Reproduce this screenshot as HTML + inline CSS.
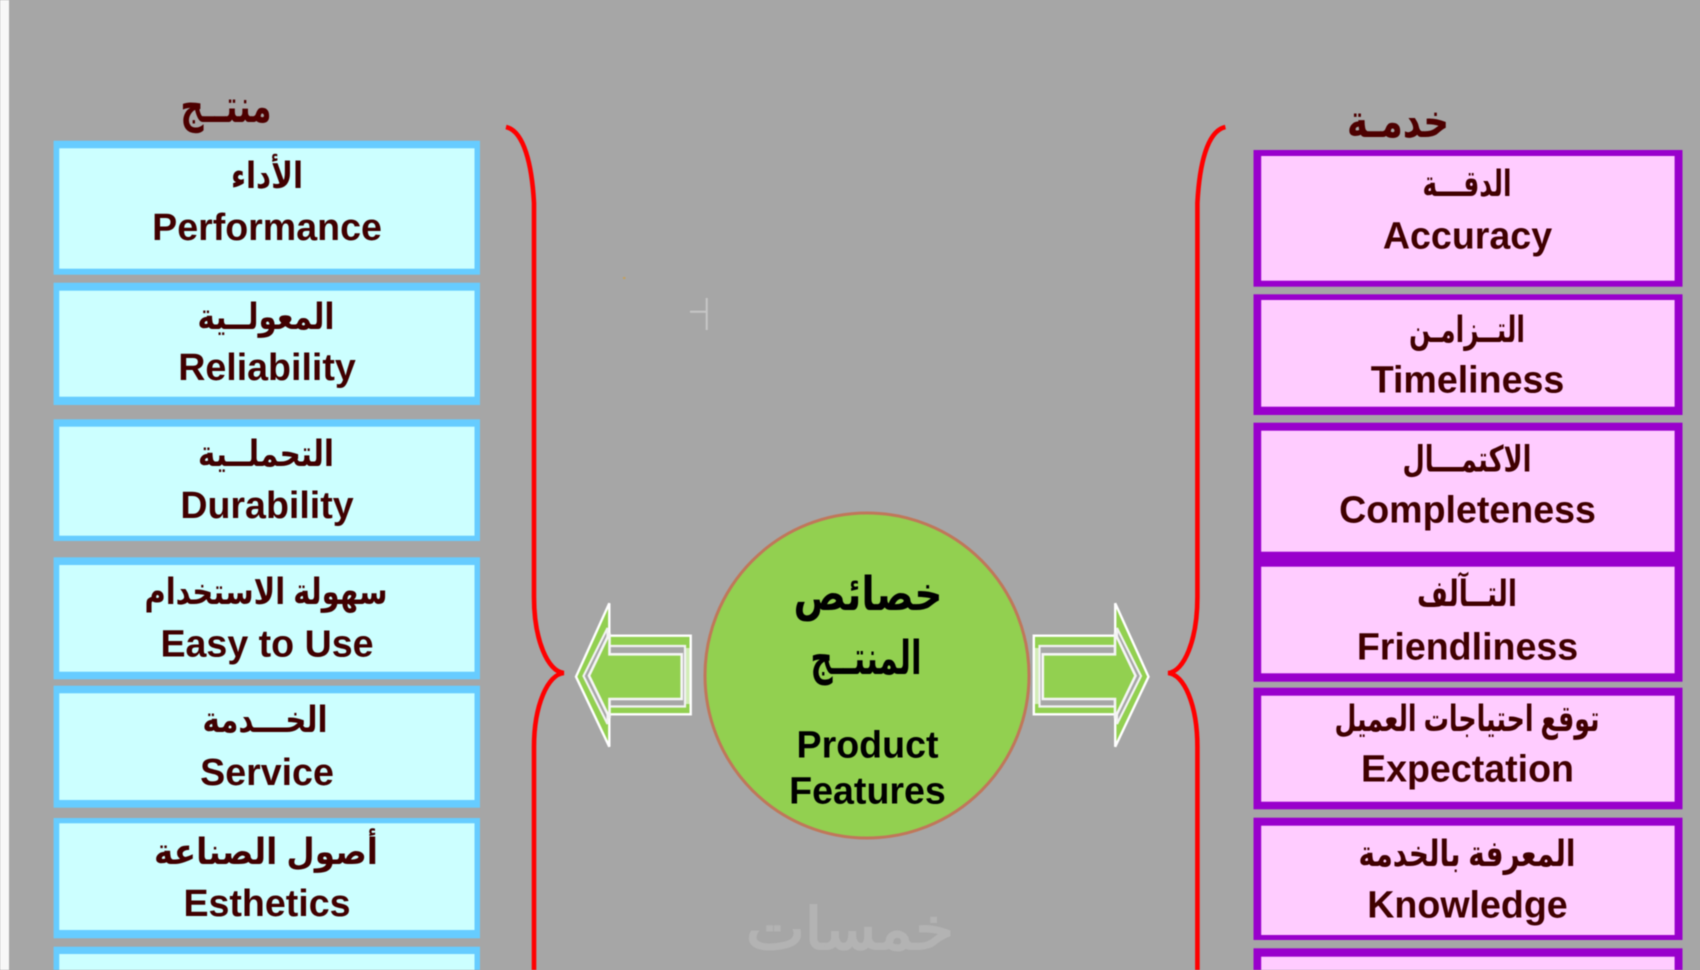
<!DOCTYPE html>
<html lang="ar">
<head>
<meta charset="utf-8">
<title>خصائص المنتج</title>
<style>
html,body{margin:0;padding:0;background:#a6a6a6;width:1700px;height:970px;overflow:hidden}
svg{display:block;filter:blur(0.5px)}
text{font-family:"Liberation Sans","DejaVu Sans",sans-serif;font-weight:bold;text-anchor:middle}
.en{font-size:37.6px;fill:#400000}
.ar{font-size:36px;fill:#400000;direction:rtl}
.tt{font-size:46px;fill:#4d0000;direction:rtl}
.ce{font-size:37.6px;fill:#000}
.ca{font-size:47px;fill:#000;direction:rtl}
.lb{fill:#66ccff}.li{fill:#ccffff}
.rb{fill:#9900cc}.ri{fill:#ffccff}
</style>
</head>
<body>
<svg width="1700" height="970" viewBox="0 0 1700 970" xmlns="http://www.w3.org/2000/svg">
<defs>
<g id="arr">
<polygon points="576,676.7 609.3,603.3 609.3,635.7 690.7,635.7 690.7,714.3 609.3,714.3 609.3,746.7" fill="#92d050" stroke="#fff" stroke-width="2.4"/>
<rect x="685" y="648" width="4.5" height="56" fill="#d3edb8"/>
<polygon points="583.5,676 607.5,628 607.5,646 685,646 685,706.5 607.5,706.5 607.5,724" fill="#a6a6a6" stroke="#f2f2f2" stroke-width="2.2"/>
<polygon points="589,675.7 609.5,633 609.5,654.3 681.7,654.3 681.7,699 609.5,699 609.5,718" fill="#92d050" stroke="#f5f5f5" stroke-width="2.6"/>
</g>
</defs>

<rect width="1700" height="970" fill="#a6a6a6"/>
<rect x="-4" y="-4" width="13" height="980" fill="#f7f7f7"/>

<!-- left boxes -->
<rect class="lb" x="53.6" y="140.7" width="426.4" height="134"/><rect class="li" x="59.3" y="148.3" width="415.2" height="120.4"/>
<rect class="lb" x="53.6" y="282.7" width="426.4" height="122.3"/><rect class="li" x="59.3" y="290.7" width="415.2" height="106"/>
<rect class="lb" x="53.6" y="419.3" width="426.4" height="121.7"/><rect class="li" x="59.3" y="426.7" width="415.2" height="109"/>
<rect class="lb" x="53.6" y="557.3" width="426.4" height="122"/><rect class="li" x="59.3" y="565" width="415.2" height="106.7"/>
<rect class="lb" x="53.6" y="685.7" width="426.4" height="122"/><rect class="li" x="59.3" y="693.3" width="415.2" height="106.7"/>
<rect class="lb" x="53.6" y="818" width="426.4" height="120.3"/><rect class="li" x="59.3" y="823.3" width="415.2" height="106.7"/>
<rect class="lb" x="53.6" y="946.7" width="426.4" height="30"/><rect class="li" x="59.3" y="954" width="415.2" height="30"/>

<!-- right boxes -->
<rect class="rb" x="1253.5" y="150" width="429" height="136.7"/><rect class="ri" x="1261.2" y="156" width="413.4" height="124.7"/>
<rect class="rb" x="1253.5" y="294.3" width="429" height="120.7"/><rect class="ri" x="1261.2" y="300" width="413.4" height="106.7"/>
<rect class="rb" x="1253.5" y="422.7" width="429" height="259"/><rect class="ri" x="1261.2" y="430.7" width="413.4" height="121"/><rect class="ri" x="1261.2" y="566.7" width="413.4" height="106.6"/>
<rect class="rb" x="1253.5" y="687.7" width="429" height="121.6"/><rect class="ri" x="1261.2" y="695.7" width="413.4" height="106"/>
<rect class="rb" x="1253.5" y="817.7" width="429" height="122.3"/><rect class="ri" x="1261.2" y="825.7" width="413.4" height="109.3"/>
<rect class="rb" x="1253.5" y="948.3" width="429" height="30"/><rect class="ri" x="1261.2" y="956.7" width="413.4" height="30"/>

<!-- braces -->
<path d="M506,127 C524,131 532,165 534,203 L534,597 C534,640 548,672 564,673 C548,674 534,705 534,747 L534,975" fill="none" stroke="#ff0000" stroke-width="4.6"/>
<path d="M1225.4,127 C1207,131 1199.4,165 1197.4,203 L1197.4,597 C1197.4,640 1184,672 1168,673 C1184,674 1197.4,705 1197.4,747 L1197.4,975" fill="none" stroke="#ff0000" stroke-width="4.6"/>

<!-- circle -->
<ellipse cx="867" cy="675.5" rx="162" ry="162.5" fill="#92d050" stroke="#c0775a" stroke-width="3"/>

<!-- arrows -->
<use href="#arr"/>
<use href="#arr" transform="translate(1724.5,0) scale(-1,1)"/>

<!-- stray marks -->
<path d="M706.7,298V330M690,311.7H706.7" stroke="#c6c6c6" stroke-width="2" fill="none"/>
<rect x="623" y="277" width="2.5" height="2" fill="#c2a060"/>

<!-- titles -->
<text class="tt" x="226" y="122" textLength="91" lengthAdjust="spacingAndGlyphs">منتــج</text>
<text class="tt" x="1398" y="137" textLength="102" lengthAdjust="spacingAndGlyphs">خدمـة</text>

<!-- left labels -->
<text class="ar" x="267" y="188" textLength="72" lengthAdjust="spacingAndGlyphs">الأداء</text>
<text class="en" x="267" y="240">Performance</text>
<text class="ar" x="266" y="329" textLength="137" lengthAdjust="spacingAndGlyphs">المعولــية</text>
<text class="en" x="267" y="380">Reliability</text>
<text class="ar" x="266" y="466" textLength="136" lengthAdjust="spacingAndGlyphs">التحملــية</text>
<text class="en" x="267" y="518">Durability</text>
<text class="ar" x="266" y="604" textLength="243" lengthAdjust="spacingAndGlyphs">سهولة الاستخدام</text>
<text class="en" x="267" y="656.7">Easy to Use</text>
<text class="ar" x="265" y="732" textLength="125" lengthAdjust="spacingAndGlyphs">الخـــدمة</text>
<text class="en" x="267" y="785">Service</text>
<text class="ar" x="266" y="864" textLength="224" lengthAdjust="spacingAndGlyphs">أصول الصناعة</text>
<text class="en" x="267" y="916">Esthetics</text>

<!-- right labels -->
<text class="ar" x="1467" y="196" textLength="89" lengthAdjust="spacingAndGlyphs">الدقـــة</text>
<text class="en" x="1467.5" y="248.3">Accuracy</text>
<text class="ar" x="1467" y="342" textLength="116" lengthAdjust="spacingAndGlyphs">التــزامـن</text>
<text class="en" x="1467.5" y="392.7">Timeliness</text>
<text class="ar" x="1467" y="471.7" textLength="129" lengthAdjust="spacingAndGlyphs">الاكتمـــال</text>
<text class="en" x="1467.5" y="522.7">Completeness</text>
<text class="ar" x="1467" y="606" textLength="100" lengthAdjust="spacingAndGlyphs">التــآلف</text>
<text class="en" x="1467.5" y="659.3">Friendliness</text>
<text class="ar" x="1467" y="731" textLength="265" lengthAdjust="spacingAndGlyphs">توقع احتياجات العميل</text>
<text class="en" x="1467.5" y="781.7">Expectation</text>
<text class="ar" x="1467" y="866" textLength="217" lengthAdjust="spacingAndGlyphs">المعرفة بالخدمة</text>
<text class="en" x="1467.5" y="917.3">Knowledge</text>

<!-- circle labels -->
<text class="ca" x="868" y="610" textLength="149" lengthAdjust="spacingAndGlyphs">خصائص</text>
<text class="ca" x="866" y="674" textLength="111" lengthAdjust="spacingAndGlyphs">المنتــج</text>
<text class="ce" x="867.5" y="757.7">Product</text>
<text class="ce" x="867.5" y="803.3">Features</text>

<!-- watermark -->
<text x="850" y="949" style="font-size:58px;font-weight:normal;fill:#b3b3b3;stroke:#b3b3b3;stroke-width:2;direction:rtl;font-family:'DejaVu Sans',sans-serif" textLength="208" lengthAdjust="spacingAndGlyphs">خمسات</text>
</svg>
</body>
</html>
